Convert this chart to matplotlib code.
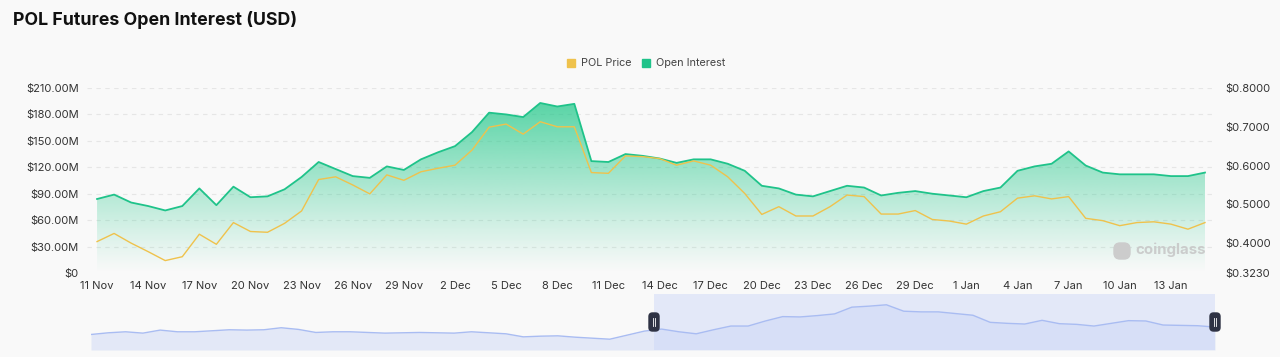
import numpy as np
import pandas as pd
import matplotlib
matplotlib.use("Agg")
import matplotlib.pyplot as plt
from matplotlib.patches import FancyBboxPatch, Rectangle
from matplotlib.transforms import IdentityTransform

plt.rcParams["font.family"] = ["Inter", "DejaVu Sans"]

# Data
dates = pd.date_range("2024-11-11", "2025-01-15", freq="D")

open_interest = [
    84, 89, 80, 76, 71, 76, 96, 77, 98, 86, 87, 95, 109, 126, 118, 110, 108, 121, 117, 129,
    137, 144, 160, 182, 180, 177, 193, 189, 192, 127, 126, 135, 133, 130, 125, 129, 129, 124,
    116, 99, 96, 89, 87, 93, 99, 97, 88, 91, 93, 90, 88,
    86, 93, 97, 116, 121, 124, 138, 122, 114, 112, 112, 112, 110, 110, 114,
]  # $M

pol_price = [
    0.404, 0.425, 0.400, 0.378, 0.355, 0.365, 0.423, 0.397, 0.453, 0.430, 0.428, 0.451, 0.483,
    0.564, 0.571, 0.550, 0.527, 0.576, 0.562, 0.584,
    0.593, 0.601, 0.640, 0.699, 0.707, 0.681, 0.713, 0.700, 0.700, 0.582, 0.580, 0.625, 0.623,
    0.618, 0.601, 0.612, 0.601, 0.571, 0.528, 0.474, 0.494, 0.470, 0.470, 0.494, 0.524, 0.520,
    0.475, 0.475, 0.484, 0.461, 0.457,
    0.449, 0.470, 0.481, 0.516, 0.522, 0.514, 0.520, 0.464, 0.458, 0.445, 0.453, 0.455, 0.449,
    0.436, 0.453,
]

# navigator overview series (relative height)
navigator = [
    46, 51, 54, 50, 59, 54, 54, 57, 60, 59, 60, 66, 61, 52, 54, 54, 52, 50, 51, 52, 51, 50,
    54, 51, 48, 39, 41, 42, 38, 35, 32, 44, 56, 62, 54, 48, 60, 71, 71, 86, 99, 98, 102, 107,
    127, 130, 134, 115, 113, 113, 108, 103, 82, 79, 77, 88, 78, 76, 71, 79, 87, 86, 74, 73,
    72, 68,
]

left_ticks = [0, 30, 60, 90, 120, 150, 180, 210]
right_ticks = [0.3230, 0.4, 0.5, 0.6, 0.7, 0.8]
xtick_step = 3

bg = "#f9f9f9"
green = "#1fc38a"
gold = "#efc24c"
H = 357

fig = plt.figure(figsize=(12.8, 3.57), dpi=100, facecolor=bg)

# main chart
ax = fig.add_axes([87 / 1280, 1 - 273 / H, (1213 - 87) / 1280, (273 - 88) / H])
ax.set_facecolor(bg)
x = np.arange(len(dates))
oi = np.array(open_interest)

ax.set_xlim(-0.59, len(dates) - 1 + 0.47)
ax.set_ylim(0, 210)

# gradient fill under open interest
grad = np.zeros((256, 2, 4))
grad[:, :, 0] = 38 / 255
grad[:, :, 1] = 201 / 255
grad[:, :, 2] = 140 / 255
alpha = np.linspace(0.85, 0.0, 256) ** 1.1
grad[:, :, 3] = alpha[:, None]
poly = ax.fill_between(x, oi, 0, color="none", lw=0)
img = ax.imshow(grad, extent=[x[0], x[-1], 0, 210], aspect="auto", origin="upper", zorder=1)
img.set_clip_path(poly.get_paths()[0], transform=ax.transData)
ax.plot(x, oi, color=green, lw=1.3, zorder=3)

for t in left_ticks[1:]:
    ax.axhline(t, color="#e6e6e6", lw=0.8, ls=(0, (4, 4)), zorder=0)

ax.set_yticks(left_ticks)
ax.set_yticklabels(["$0"] + [f"${v:.2f}M" for v in left_ticks[1:]])
ax.set_xticks(x[::xtick_step])
ax.set_xticklabels([f"{d.day} {d.strftime('%b')}" for d in dates[::xtick_step]])
ax.tick_params(length=0, labelsize=8, colors="#333333", pad=6)
for s in ax.spines.values():
    s.set_visible(False)

ax2 = ax.twinx()
ax2.set_ylim(0.3230, 0.8)
ax2.plot(x, pol_price, color=gold, lw=1.0, zorder=4)
ax2.set_yticks(right_ticks)
ax2.set_yticklabels([f"${v:.4f}" for v in right_ticks])
ax2.tick_params(length=0, labelsize=8, colors="#333333", pad=9)
for s in ax2.spines.values():
    s.set_visible(False)

# watermark
fig.text(1206 / 1280, 1 - 250 / H, "coinglass", ha="right", va="center",
         fontsize=10.8, fontweight="bold", color="#c8c8c8", alpha=0.9, zorder=5)
fig.patches.append(FancyBboxPatch((1114, H - 259), 16, 16,
                                  boxstyle="round,pad=0,rounding_size=6",
                                  transform=IdentityTransform(), color="#cccccc",
                                  figure=fig, zorder=5))

# title & legend
fig.text(13 / 1280, 1 - 20 / H, "POL Futures Open Interest (USD)", fontsize=12.8,
         fontweight="bold", color="#111111", va="center", ha="left")
fig.patches.append(Rectangle((567 / 1280, 1 - 67 / H), 8 / 1280, 8 / H,
                             transform=fig.transFigure, color=gold, figure=fig))
fig.text(581 / 1280, 1 - 63 / H, "POL Price", fontsize=7.8, color="#444444", va="center")
fig.patches.append(Rectangle((642 / 1280, 1 - 67 / H), 8 / 1280, 8 / H,
                             transform=fig.transFigure, color=green, figure=fig))
fig.text(656 / 1280, 1 - 63 / H, "Open Interest", fontsize=7.8, color="#444444", va="center")

# navigator
nav = fig.add_axes([91 / 1280, 1 - 350 / H, (1215 - 91) / 1280, (350 - 294) / H])
nav.set_facecolor(bg)
nx = np.arange(len(navigator))
nav.set_xlim(0, len(navigator) - 1)
nav.set_ylim(0, 166)
nav.fill_between(nx, navigator, 0, color="#e3e8f7", lw=0)
nav.plot(nx, navigator, color="#a9bcf2", lw=1.0)
nav.add_patch(Rectangle((0.501, 0), 0.499, 1, transform=nav.transAxes,
                        color="#c9d5f7", alpha=0.45, lw=0))
nav.set_xticks([])
nav.set_yticks([])
for s in nav.spines.values():
    s.set_visible(False)
for hx in (654, 1215):
    fig.patches.append(FancyBboxPatch((hx - 5, H - 331), 10, 18,
                                      boxstyle="round,pad=0,rounding_size=3.5",
                                      transform=IdentityTransform(), color="#2e3244",
                                      figure=fig, zorder=10))
    for dx in (-1.2, 1.2):
        fig.lines.append(plt.Line2D([hx + dx, hx + dx], [H - 326, H - 318],
                                    transform=IdentityTransform(), color="white", lw=0.6,
                                    figure=fig, zorder=11))

fig.savefig("out.png", dpi=100, facecolor=bg)
